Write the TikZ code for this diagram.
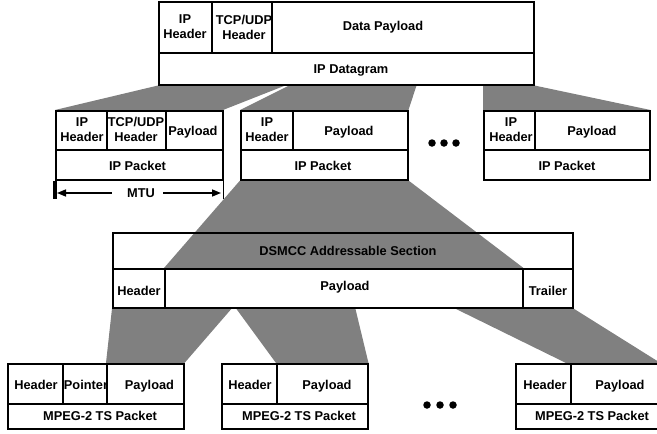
\documentclass[tikz,border=0pt]{standalone}
\usepackage{fontspec}
\setmainfont{Liberation Sans}
\usetikzlibrary{arrows.meta}
\pgfdeclarelayer{background}
\pgfsetlayers{background,main}
\definecolor{flowgray}{HTML}{808080}

% cell box given by its top-left and bottom-right corners
\newcommand\cellbox[6][]{%
  \pgfmathsetmacro\cellw{#5-#3}%
  \pgfmathsetmacro\cellh{#6-#4}%
  \node[cell,#1,minimum width=\cellw pt,minimum height=\cellh pt] (#2) at (#3,#4) {};}

\tikzset{
  cell/.style={draw, line width=1.5pt, fill=white, inner sep=0pt, anchor=north west},
  lbl/.style={font=\bfseries\fontsize{12.8}{15}\selectfont, inner sep=0pt, text height=9.2pt, text depth=0pt},
  lbltwo/.style={font=\bfseries\fontsize{12.8}{15}\selectfont, inner sep=0pt, align=center},
  flow/.style={fill=flowgray, draw=none},
  dot/.style={circle, fill=black, inner sep=0pt, minimum size=7.5pt},
  mtuarrow/.style={line width=1.5pt, -{Triangle[length=9pt,width=7pt]}},
}

\begin{document}
\begin{tikzpicture}[x=1pt,y=-1pt]
\useasboundingbox (0,0) rectangle (657,434);

% ---- IP datagram ----
\cellbox{iphA}{158}{1}{211}{52}
\cellbox{tcpA}{211}{1}{271}{52}
\cellbox{dataA}{271}{1}{533}{52}
\cellbox{dgram}{158}{52}{533}{84}
\node[lbltwo] (tIphA) at (185,27) {IP\\Header};
\node[lbltwo] (tTcpA) at (244,27) {TCP/UDP\\Header};
\node[lbl] (tDataA) at (383,26) {Data Payload};
\node[lbl] (tDgram) at (351,69) {IP Datagram};

% ---- IP packets ----
\cellbox{ipha}{55}{110}{106}{149}
\cellbox{tcpa}{106}{110}{165}{149}
\cellbox{paya}{165}{110}{222}{149}
\cellbox{pkta}{55}{149}{222}{179}
\node[lbltwo] (tipha) at (82,129.5) {IP\\Header};
\node[lbltwo] (ttcpa) at (136,129.5) {TCP/UDP\\Header};
\node[lbl] (tpaya) at (193,131) {Payload};
\node[lbl] (tpkta) at (137.5,166) {IP Packet};

\cellbox{iphb}{240}{110}{292}{149}
\cellbox{payb}{292}{110}{407}{149}
\cellbox{pktb}{240}{149}{407}{179}
\node[lbltwo] (tiphb) at (267,129.5) {IP\\Header};
\node[lbl] (tpayb) at (349,131) {Payload};
\node[lbl] (tpktb) at (323,166) {IP Packet};

\cellbox{iphc}{483}{110}{534}{149}
\cellbox{payc}{534}{110}{649}{149}
\cellbox{pktc}{483}{149}{649}{179}
\node[lbltwo] (tiphc) at (511,129.5) {IP\\Header};
\node[lbl] (tpayc) at (592,131) {Payload};
\node[lbl] (tpktc) at (567,166) {IP Packet};

\node[dot] (dotA1) at (432,143) {};
\node[dot] (dotA2) at (444,143) {};
\node[dot] (dotA3) at (456,143) {};

% ---- MTU span ----
\node[lbl] (mtu) at (141,193) {MTU};
\coordinate (mtuL) at (57,193);
\coordinate (mtuR) at (221,193);
\draw[line width=3.5pt] (pkta.south west) -- ++(0,18);
\draw[line width=1.5pt] (pkta.south east) -- ++(0,18);
\draw[mtuarrow] ([xshift=-15pt]mtu.west) -- (mtuL);
\draw[mtuarrow] ([xshift=8pt]mtu.east) -- (mtuR);

% ---- DSMCC section ----
\cellbox[fill=none]{dsec}{112}{232}{572}{268}
\cellbox{dhdr}{112}{268}{164}{307}
\cellbox{dpay}{164}{268}{522}{307}
\cellbox{dtrl}{522}{268}{572}{307}
\node[lbl] (tdsec) at (348,251) {DSMCC Addressable Section};
\node[lbl] (tdhdr) at (139,291) {Header};
\node[lbl] (tdpay) at (345,286) {Payload};
\node[lbl] (tdtrl) at (548,291) {Trailer};

% ---- MPEG-2 TS packets ----
\cellbox{tshdra}{7}{363}{62}{403}
\cellbox{tsptra}{62}{363}{106}{403}
\cellbox{tspaya}{106}{363}{183}{403}
\cellbox{tspkta}{7}{403}{183}{428}
\node[lbl] (ttshdra) at (36,385) {Header};
\node[lbl] (ttsptra) at (86,385) {Pointer};
\node[lbl] (ttspaya) at (149.5,385) {Payload};
\node[lbl] (ttspkta) at (100,416) {MPEG-2 TS Packet};

\cellbox{tshdrb}{221}{363}{276}{403}
\cellbox{tspayb}{276}{363}{367}{403}
\cellbox{tspktb}{221}{403}{367}{428}
\node[lbl] (ttshdrb) at (250,385) {Header};
\node[lbl] (ttspayb) at (327,385) {Payload};
\node[lbl] (ttspktb) at (299,416) {MPEG-2 TS Packet};

\cellbox{tshdrc}{515}{363}{570}{403}
\cellbox{tspayc}{570}{363}{659}{403}
\cellbox{tspktc}{515}{403}{659}{428}
\node[lbl] (ttshdrc) at (545,385) {Header};
\node[lbl] (ttspayc) at (620,385) {Payload};
\node[lbl] (ttspktc) at (592,416) {MPEG-2 TS Packet};

\node[dot] (dotB1) at (427,405) {};
\node[dot] (dotB2) at (440,405) {};
\node[dot] (dotB3) at (453,405) {};

% ---- fragmentation fans ----
\coordinate (splitA) at (289,84);
\coordinate (splitB) at (292,84);
\coordinate (splitBr) at (417,84);
\coordinate (splitC) at (483,84);
\coordinate (slantA) at (223,110);
\coordinate (secA) at (233,307);
\coordinate (secB) at (235,307);
\coordinate (secBr) at (355,307);
\coordinate (secC) at (452,307);
\coordinate (tsC) at (566,363);
\begin{pgfonlayer}{background}
  \fill[flow] (dgram.south west) -- (splitA) -- (slantA) -- (ipha.north west) -- cycle;
  \fill[flow] (splitB) -- (splitBr) -- (payb.north east) -- (iphb.north west) -- cycle;
  \fill[flow] (splitC) -- (dgram.south east) -- (payc.north east) -- (iphc.north west) -- cycle;
  \fill[flow] (pktb.south west) -- (pktb.south east) -- (dpay.north east) -- (dpay.north west) -- cycle;
  \fill[flow] (dhdr.south west) -- (secA) -- (tspaya.north east) -- (tspaya.north west) -- cycle;
  \fill[flow] (secB) -- (secBr) -- (tspayb.north east) -- (tspayb.north west) -- cycle;
  \fill[flow] (secC) -- (dtrl.south east) -- (tspayc.north east) -- (tsC) -- cycle;
\end{pgfonlayer}
\end{tikzpicture}
\end{document}
